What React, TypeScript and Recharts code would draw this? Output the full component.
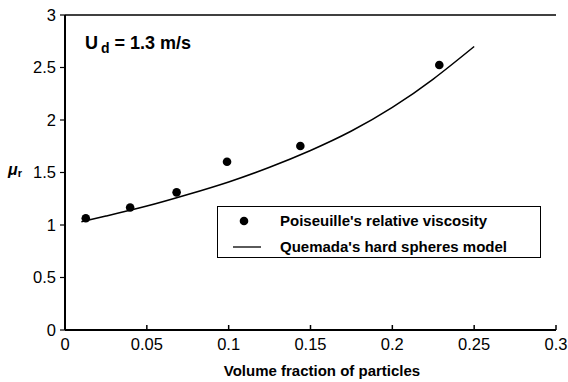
import { ComposedChart, Line, Scatter, XAxis, YAxis, Legend, ReferenceLine } from 'recharts';

// measured points (Poiseuille)
const phiPoints = [0.0127, 0.0398, 0.0682, 0.099, 0.1438, 0.2287];
const muPoints = [1.064, 1.167, 1.311, 1.602, 1.752, 2.524];

// model curve (Quemada)
const phiCurve = [0.01, 0.025, 0.05, 0.075, 0.1, 0.125, 0.15, 0.175, 0.2, 0.225, 0.25];
const muCurve = [1.03, 1.085, 1.18, 1.29, 1.41, 1.55, 1.71, 1.895, 2.12, 2.39, 2.7];

const xTicks = [0, 0.05, 0.1, 0.15, 0.2, 0.25, 0.3];
const yTicks = [0, 0.5, 1, 1.5, 2, 2.5, 3];

const pointsName = "Poiseuille's relative viscosity";
const curveName = "Quemada's hard spheres model";

const pointData = phiPoints.map((phi, i) => ({ phi, mu: muPoints[i] }));
const curveData = phiCurve.map((phi, i) => ({ phi, mu: muCurve[i] }));

const FONT = 'Arial, "Liberation Sans", sans-serif';

const XTick = (props: any) => {
  const { x, y, payload } = props;
  return (
    <g>
      <line x1={x} x2={x} y1={y} y2={y - 5} stroke="#000" strokeWidth={1.5} />
      <text x={x} y={y + 20} textAnchor="middle" fontSize={16.5} fontFamily={FONT} fill="#000">
        {String(payload.value)}
      </text>
    </g>
  );
};

const LegendBox = () => (
  <div
    style={{
      width: 322,
      height: 50,
      border: '1px solid #000',
      background: '#fff',
      fontFamily: FONT,
      fontWeight: 'bold',
      fontSize: 15,
      color: '#000',
      position: 'relative',
      textAlign: 'left',
    }}
  >
    <svg width={60} height={50} style={{ position: 'absolute', left: 0, top: 0 }}>
      <circle cx={26} cy={14} r={4.3} fill="#000" />
      <line x1={15} x2={43} y1={40} y2={40} stroke="#000" strokeWidth={1.3} />
    </svg>
    <div style={{ position: 'absolute', left: 62, top: 5, whiteSpace: 'nowrap' }}>{pointsName}</div>
    <div style={{ position: 'absolute', left: 62, top: 31, whiteSpace: 'nowrap' }}>{curveName}</div>
  </div>
);

export default function App() {
  return (
    <div style={{ position: 'absolute', left: 0, top: 0, width: 568, height: 382, background: '#fff', fontFamily: FONT }}>
      <ComposedChart width={568} height={382} margin={{ top: 15, right: 12, left: 0, bottom: 22 }}>
        <XAxis
          dataKey="phi"
          type="number"
          domain={[0, 0.3]}
          ticks={xTicks}
          allowDuplicatedCategory={false}
          tick={<XTick />}
          tickLine={false}
          tickSize={0}
          tickMargin={0}
          height={30}
          axisLine={{ stroke: '#000', strokeWidth: 2 }}
          interval={0}
        />
        <YAxis
          dataKey="mu"
          type="number"
          domain={[0, 3]}
          ticks={yTicks}
          width={65}
          tickSize={5}
          tickMargin={4}
          interval={0}
          tick={{ fontSize: 16.5, fill: '#000', fontFamily: FONT }}
          tickLine={{ stroke: '#000', strokeWidth: 1.2 }}
          axisLine={{ stroke: '#000', strokeWidth: 2 }}
        />
        <YAxis
          yAxisId="right"
          orientation="right"
          type="number"
          domain={[0, 3]}
          width={0}
          tick={false}
          tickLine={false}
          axisLine={{ stroke: '#000', strokeWidth: 1.2 }}
        />
        <ReferenceLine y={3} stroke="#000" strokeWidth={1.5} ifOverflow="visible" />
        <Legend
          layout="horizontal"
          verticalAlign="middle"
          align="center"
          content={<LegendBox />}
          wrapperStyle={{ position: 'absolute', left: 217, top: 206, width: 324, height: 52 }}
        />
        <Line
          data={curveData}
          dataKey="mu"
          name={curveName}
          type="natural"
          stroke="#000"
          strokeWidth={1.5}
          dot={false}
          activeDot={false}
          isAnimationActive={false}
        />
        <Scatter
          data={pointData}
          dataKey="mu"
          name={pointsName}
          fill="#000"
          shape={(p: any) => <circle cx={p.cx} cy={p.cy} r={4.3} fill="#000" />}
          isAnimationActive={false}
        />
      </ComposedChart>
      <div
        style={{
          position: 'absolute',
          left: 85,
          top: 33,
          fontSize: 18,
          fontWeight: 'bold',
          color: '#000',
          whiteSpace: 'nowrap',
        }}
      >
        U<span style={{ fontSize: 14, position: 'relative', top: 4, marginLeft: 3 }}>d</span> = 1.3 m/s
      </div>
      <div
        style={{
          position: 'absolute',
          left: 8,
          top: 161,
          fontSize: 16,
          fontWeight: 'bold',
          fontStyle: 'italic',
          color: '#000',
        }}
      >
        μ<span style={{ fontSize: 11, fontStyle: 'normal', position: 'relative', top: 2 }}>r</span>
      </div>
      <div
        style={{
          position: 'absolute',
          left: 0,
          width: 644,
          top: 362,
          textAlign: 'center',
          fontSize: 15,
          fontWeight: 'bold',
          color: '#000',
          whiteSpace: 'nowrap',
        }}
      >
        Volume fraction of particles
      </div>
    </div>
  );
}
